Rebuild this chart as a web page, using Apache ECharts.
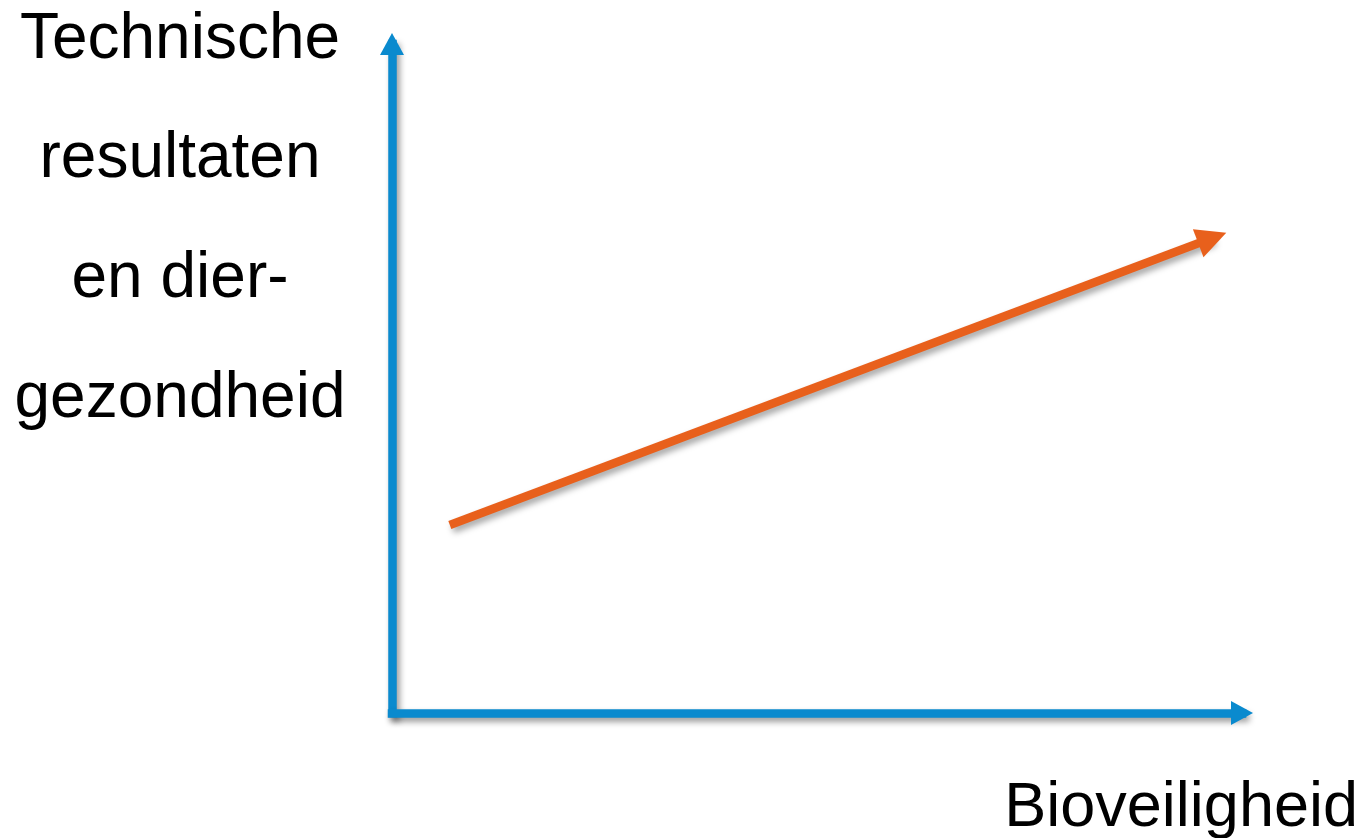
<!DOCTYPE html>
<html>
<head>
<meta charset="utf-8">
<script src="https://cdn.jsdelivr.net/npm/echarts@6/dist/echarts.min.js"></script>
<style>
html,body{margin:0;padding:0;background:#fff;}
#chart{width:1368px;height:838px;}
</style>
</head>
<body>
<div id="chart"></div>
<script>
// Axis ranges (arbitrary conceptual units)
const xRange = [0, 100];
const yRange = [0, 100];
// Trend arrow: start and end points
const trendX = [6.8, 96.5];
const trendY = [28.1, 71.0];
// Texts
const yTitleLines = ['Technische', 'resultaten', 'en dier-', 'gezondheid'];
const xTitle = 'Bioveiligheid';

const BLUE = '#0a8ace';
const ORANGE = '#e8601c';
const FONT = '"Liberation Sans", Arial, Helvetica, sans-serif';

const chart = echarts.init(document.getElementById('chart'), null, {renderer: 'canvas'});

const axisLineStyle = {
  color: BLUE,
  width: 8.5,
  cap: 'square',
  shadowColor: 'rgba(0,0,0,0.4)',
  shadowBlur: 6,
  shadowOffsetX: 3,
  shadowOffsetY: 4
};

const yTitleBaselines = [58, 177, 297, 417];
const graphics = yTitleLines.map((t, i) => ({
  type: 'text',
  x: 180,
  y: yTitleBaselines[i] - 18,
  style: {
    text: t,
    fill: '#000',
    font: '64px ' + FONT,
    align: 'center',
    verticalAlign: 'middle'
  }
}));
graphics.push({
  type: 'text',
  x: 1358,
  y: 809,
  style: {
    text: xTitle,
    fill: '#000',
    font: '63px ' + FONT,
    align: 'right',
    verticalAlign: 'middle'
  }
});

chart.setOption({
  animation: false,
  backgroundColor: '#fff',
  grid: {left: 392, right: 126, top: 44, bottom: 125, containLabel: false, outerBoundsMode: 'none'},
  xAxis: {
    type: 'value', min: xRange[0], max: xRange[1],
    axisLine: {show: true, symbol: ['none', 'triangle'], symbolSize: [24, 22], lineStyle: axisLineStyle},
    axisTick: {show: false}, axisLabel: {show: false}, splitLine: {show: false}
  },
  yAxis: {
    type: 'value', min: yRange[0], max: yRange[1],
    axisLine: {show: true, symbol: ['none', 'triangle'], symbolSize: [24, 22], lineStyle: axisLineStyle},
    axisTick: {show: false}, axisLabel: {show: false}, splitLine: {show: false}
  },
  series: [{
    type: 'lines',
    coordinateSystem: 'cartesian2d',
    symbol: ['none', 'triangle'],
    symbolSize: 30,
    lineStyle: {
      color: ORANGE, width: 8.5, opacity: 1, curveness: 0,
      shadowColor: 'rgba(0,0,0,0.35)', shadowBlur: 6, shadowOffsetX: 3, shadowOffsetY: 4
    },
    itemStyle: {color: ORANGE},
    data: [{coords: [[trendX[0], trendY[0]], [trendX[1], trendY[1]]]}]
  }],
  graphic: graphics
});
</script>
</body>
</html>
